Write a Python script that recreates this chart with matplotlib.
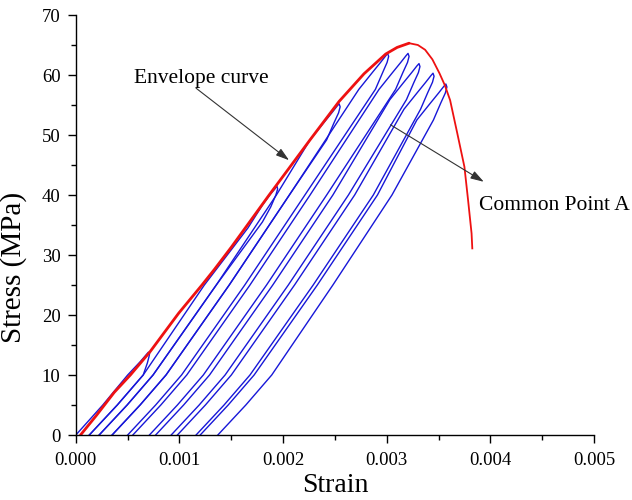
import matplotlib
matplotlib.use("Agg")
import matplotlib.pyplot as plt
from matplotlib.ticker import MultipleLocator, FormatStrFormatter

# ---- data ----
# envelope curve (red)
env_strain = [0.000045, 0.00020, 0.00037, 0.000526, 0.000717, 0.00085, 0.000992, 0.001217,
              0.001337, 0.00150, 0.001647, 0.001865, 0.00205, 0.00226, 0.00254, 0.00278,
              0.00299, 0.00310, 0.003215, 0.00330, 0.00337, 0.00344, 0.003508,
              0.00356, 0.003611, 0.00368, 0.003749, 0.003784, 0.003818, 0.003825]
env_stress = [0.0, 3.3, 7.1, 10.0, 13.9, 17.0, 20.3, 25.0,
              27.6, 31.3, 34.8, 40.0, 44.3, 49.2, 55.6, 60.2,
              63.5, 64.6, 65.3, 65.0, 64.2, 62.6, 60.3,
              58.3, 55.8, 50.3, 44.7, 39.2, 33.6, 31.1]

# cyclic loops (blue): reloading branch up to the tip, then unloading branch down
loop1_strain = [0.0, 0.00026, 0.0005, 0.00062, 0.00067, 0.00070, 0.000712, 0.000705, 0.00069, 0.00065, 0.0004, 0.00013]
loop1_stress = [0.0, 5.0, 10.0, 12.2, 13.2, 13.8, 13.6, 13.0, 12.0, 10.0, 5.0, 0.0]

loop2_strain = [0.00013, 0.0004, 0.00065, 0.00124, 0.00166, 0.00180, 0.00188, 0.00192, 0.00194,
                0.001947, 0.00193, 0.00188, 0.00180, 0.001355, 0.000745, 0.000495, 0.000225]
loop2_stress = [0.0, 5.0, 10.0, 25.0, 34.5, 38.3, 40.2, 41.0, 41.5,
                41.0, 40.0, 38.0, 35.5, 25.0, 10.0, 5.0, 0.0]

loop3_strain = [0.000225, 0.000495, 0.000745, 0.001355, 0.001935, 0.00226, 0.00239, 0.00247, 0.00252, 0.00254,
                0.00255, 0.002535, 0.00249, 0.00242, 0.00206, 0.00148, 0.00087, 0.00062, 0.00035]
loop3_stress = [0.0, 5.0, 10.0, 25.0, 40.0, 49.2, 52.0, 53.7, 54.8, 55.2,
                54.7, 53.7, 52.0, 49.2, 40.0, 25.0, 10.0, 5.0, 0.0]

loop4_strain = [0.00035, 0.00062, 0.00087, 0.00148, 0.00206, 0.00273, 0.00286, 0.00294, 0.00299, 0.003008,
                0.003018, 0.003003, 0.00296, 0.00289, 0.00221, 0.00163, 0.00102, 0.00077, 0.0005]
loop4_stress = [0.0, 5.0, 10.0, 25.0, 40.0, 57.6, 60.4, 62.1, 63.2, 63.6,
                63.1, 62.1, 60.4, 57.6, 40.0, 25.0, 10.0, 5.0, 0.0]

loop5_strain = [0.00055, 0.00082, 0.00107, 0.00168, 0.00226, 0.002925, 0.003055, 0.003135, 0.003185, 0.003205,
                0.003215, 0.0032, 0.003155, 0.003085, 0.00242, 0.00184, 0.00123, 0.00098, 0.00071]
loop5_stress = [0.0, 5.0, 10.0, 25.0, 40.0, 57.6, 60.4, 62.1, 63.2, 63.6,
                63.1, 62.1, 60.4, 57.6, 40.0, 25.0, 10.0, 5.0, 0.0]

loop6_strain = [0.00077, 0.00104, 0.00129, 0.0019, 0.00248, 0.00303, 0.00316, 0.00324, 0.00329, 0.003311,
                0.00332, 0.003305, 0.00326, 0.00319, 0.00263, 0.00205, 0.00144, 0.00119, 0.00092]
loop6_stress = [0.0, 5.0, 10.0, 25.0, 40.0, 55.9, 58.7, 60.4, 61.5, 61.9,
                61.4, 60.4, 58.7, 55.9, 40.0, 25.0, 10.0, 5.0, 0.0]

loop7_strain = [0.00098, 0.00125, 0.0015, 0.00211, 0.00269, 0.003166, 0.003296, 0.003376, 0.003426, 0.003446,
                0.003456, 0.003441, 0.003396, 0.003326, 0.00287, 0.00229, 0.00168, 0.00143, 0.00116]
loop7_stress = [0.0, 5.0, 10.0, 25.0, 40.0, 54.3, 57.1, 58.8, 59.9, 60.3,
                59.8, 58.8, 57.1, 54.3, 40.0, 25.0, 10.0, 5.0, 0.0]

loop8_strain = [0.0012, 0.00147, 0.00172, 0.00233, 0.00291, 0.00329, 0.00342, 0.0035, 0.00355, 0.00357,
                0.00358, 0.003565, 0.00352, 0.00345, 0.00305, 0.00248, 0.00189, 0.00164, 0.00137]
loop8_stress = [0.0, 5.0, 10.0, 25.0, 40.0, 52.5, 55.3, 57.0, 58.1, 58.5,
                58.0, 57.0, 55.3, 52.5, 40.0, 25.0, 10.0, 5.0, 0.0]

loops = [(loop1_strain, loop1_stress), (loop2_strain, loop2_stress),
         (loop3_strain, loop3_stress), (loop4_strain, loop4_stress),
         (loop5_strain, loop5_stress), (loop6_strain, loop6_stress),
         (loop7_strain, loop7_stress), (loop8_strain, loop8_stress)]

x_ticks = [0.000, 0.001, 0.002, 0.003, 0.004, 0.005]
y_ticks = [0, 10, 20, 30, 40, 50, 60, 70]

env_label = "Envelope curve"
env_label_xy = (0.000565, 59.5)
env_arrow_from = (0.00116, 57.8)
env_arrow_to = (0.002057, 45.8)

cp_label = "Common Point A"
cp_label_xy = (0.00389, 38.3)
cp_arrow_from = (0.003036, 51.7)
cp_arrow_to = (0.003936, 42.2)

# ---- figure ----
plt.rcParams['font.family'] = ['Liberation Serif', 'DejaVu Serif']
fig = plt.figure(figsize=(6.32, 5.0), dpi=100)
ax = fig.add_axes([0.120, 0.130, 0.820, 0.840])

for xs, ys in loops:
    ax.plot(xs, ys, color='#1717d8', lw=1.0, solid_joinstyle='round')

pk = env_stress.index(max(env_stress))
ax.plot(env_strain[:pk + 1], env_stress[:pk + 1], color='#ee1111', lw=2.0,
        solid_capstyle='round', solid_joinstyle='round')
ax.plot(env_strain[pk:], env_stress[pk:], color='#ee1111', lw=1.3, solid_joinstyle='round')

arrowprops = dict(arrowstyle='-|>,head_length=0.8,head_width=0.25', color='#333333', lw=0.8,
                  shrinkA=0, shrinkB=0)
ax.annotate('', xy=env_arrow_to, xytext=env_arrow_from, arrowprops=arrowprops)
ax.annotate('', xy=cp_arrow_to, xytext=cp_arrow_from, arrowprops=arrowprops)
ax.text(*env_label_xy, env_label, fontsize=15.5, va='center', ha='left')
ax.text(*cp_label_xy, cp_label, fontsize=15.5, va='center', ha='left', clip_on=False)

ax.set_xlim(0, 0.005)
ax.set_ylim(0, 70)
ax.set_xticks(x_ticks)
ax.set_yticks(y_ticks)
ax.xaxis.set_major_formatter(FormatStrFormatter('%.3f'))
ax.xaxis.set_minor_locator(MultipleLocator(0.0005))
ax.yaxis.set_minor_locator(MultipleLocator(5))
ax.tick_params(which='major', direction='out', length=6, width=1, labelsize=13.5)
ax.tick_params(axis='x', which='major', pad=6)
ax.tick_params(axis='y', which='major', pad=5)
ax.tick_params(which='minor', direction='out', length=3.5, width=1)
for s in ['top', 'right']:
    ax.spines[s].set_visible(False)
for s in ['left', 'bottom']:
    ax.spines[s].set_linewidth(1.0)

ax.set_xlabel('Strain', fontsize=20, labelpad=3)
ax.set_ylabel('Stress (MPa)', fontsize=21)
ax.yaxis.set_label_coords(-0.095, 0.40)

fig.savefig('out.png', dpi=100)
